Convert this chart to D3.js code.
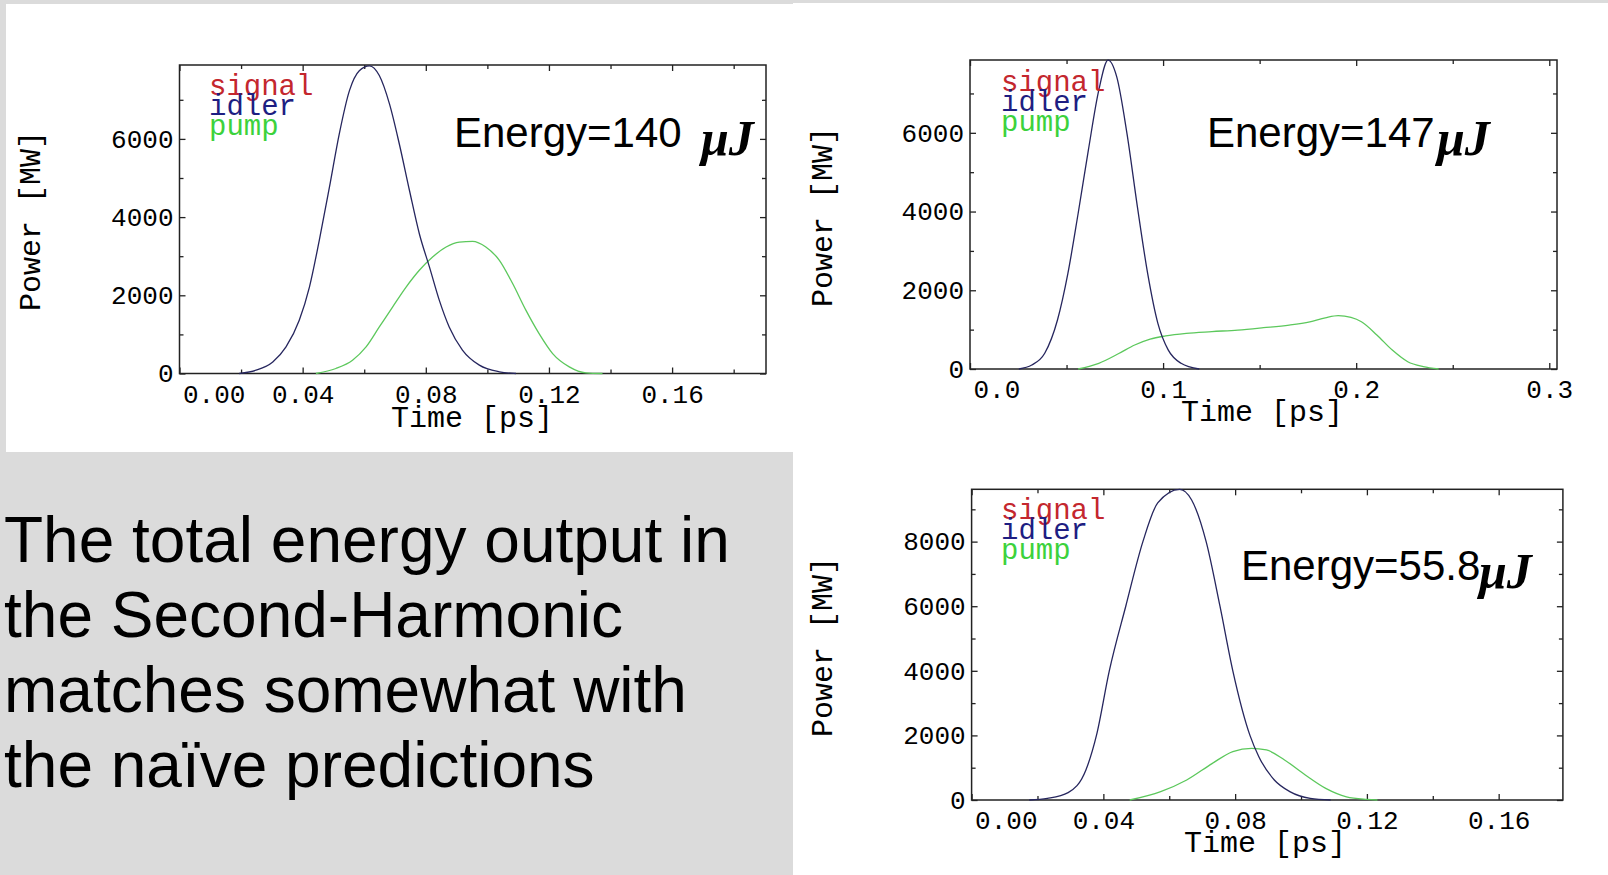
<!DOCTYPE html>
<html lang="en">
<head>
    <meta charset="UTF-8">
    <title>SHG pulse power</title>
    <script src="https://d3js.org/d3.v7.min.js"></script>
    <style>
        body { margin: 0; }
        .tick text, .axis-label, .legend text {
            font-family: "Liberation Mono", "DejaVu Sans Mono", monospace;
        }
        .energy { font-family: "Liberation Sans", Arial, sans-serif; }
        .unit { font-family: "Liberation Serif", "Times New Roman", serif; font-weight: bold; font-style: italic; }
        .note { font-family: "Liberation Sans", Arial, sans-serif; }
    </style>
</head>
<body>
    <svg id="slide" width="1608" height="875"></svg>

    <script>
        // series: [time ps, power MW]
        var p1Idler = [[0.0194, 0], [0.0249, 85], [0.0303, 296], [0.0346, 680], [0.0389, 1360], [0.0422, 2210],
            [0.0454, 3405], [0.0487, 4765], [0.0519, 6130], [0.0552, 7235], [0.0584, 7745], [0.0617, 7870],
            [0.0649, 7620], [0.0682, 6895], [0.0714, 5870], [0.0747, 4680], [0.0779, 3575], [0.0812, 2720],
            [0.0844, 1870], [0.0876, 1190], [0.0919, 600], [0.0974, 213], [0.1039, 43], [0.1093, 0]];
        var p1Pump = [[0.0443, 0], [0.0508, 128], [0.0562, 340], [0.0606, 680], [0.0649, 1190], [0.0692, 1700],
            [0.0736, 2210], [0.0779, 2640], [0.0822, 2980], [0.0866, 3235], [0.0909, 3360], [0.0952, 3380],
            [0.0995, 3235], [0.1039, 2895], [0.1082, 2300], [0.1125, 1620], [0.1168, 1020], [0.1212, 510],
            [0.1266, 170], [0.132, 17], [0.1374, 0]];

        var p2Idler = [[0.0253, 0], [0.032, 100], [0.0387, 400], [0.0453, 1245], [0.0507, 2430], [0.056, 3950],
            [0.0613, 5560], [0.0667, 7085], [0.0715, 7846], [0.076, 7420], [0.0813, 5980], [0.0867, 4120],
            [0.092, 2430], [0.0973, 1160], [0.1027, 480], [0.1093, 145], [0.1187, 0]];
        var p2Pump = [[0.056, 0], [0.0667, 145], [0.0773, 400], [0.0853, 610], [0.0933, 760], [0.1013, 840],
            [0.112, 905], [0.1253, 950], [0.1387, 990], [0.152, 1050], [0.1653, 1117], [0.176, 1200],
            [0.184, 1300], [0.1907, 1355], [0.1973, 1310], [0.2027, 1200], [0.2107, 865], [0.2187, 480],
            [0.2267, 185], [0.2347, 60], [0.2427, 0]];

        var p3Idler = [[0.0175, 0], [0.023, 50], [0.0293, 230], [0.0347, 930], [0.0379, 2000], [0.0418, 4000],
            [0.0468, 6000], [0.052, 8000], [0.0565, 9200], [0.0632, 9620], [0.0668, 9290], [0.0712, 8000],
            [0.0754, 6000], [0.0793, 4000], [0.0845, 2000], [0.0872, 1340], [0.0919, 620], [0.0966, 260],
            [0.1028, 50], [0.109, 0]];
        var p3Pump = [[0.048, 0], [0.0574, 260], [0.0653, 620], [0.0731, 1135], [0.0793, 1500], [0.085, 1600],
            [0.0895, 1550], [0.095, 1240], [0.1013, 775], [0.1075, 360], [0.1138, 100], [0.12, 20], [0.1232, 0]];

        var legendNames = ["signal", "idler", "pump"];
        var legendColors = ["#c4272e", "#1e1e82", "#3cd23c"];
        var energies = ["Energy=140 ", "Energy=147", "Energy=55.8"];
        var ticks1 = [0, 0.04, 0.08, 0.12, 0.16];
        var ticks2 = [0, 0.1, 0.2, 0.3];
        var yTicks1 = [0, 2000, 4000, 6000];
        var yTicks3 = [0, 2000, 4000, 6000, 8000];
        var noteLines = ["The total energy output in", "the Second-Harmonic",
            "matches somewhat with", "the na\u00efve predictions"];

        var svg = d3.select("#slide");

        // slide background
        svg.append("rect").attr("width", 1608).attr("height", 875).attr("fill", "#dbdbdb");
        svg.append("rect").attr("x", 6).attr("y", 4).attr("width", 787).attr("height", 448).attr("fill", "#fff");
        svg.append("rect").attr("x", 793).attr("y", 3).attr("width", 815).attr("height", 872).attr("fill", "#fff");

        function drawPanel(c) {
            var x = d3.scaleLinear().domain(c.xDomain).range([c.left, c.right]);
            var y = d3.scaleLinear().domain(c.yDomain).range([c.bottom, c.top]);
            var g = svg.append("g");

            function axis(gen, tr, size, fmt) {
                var a = g.append("g").attr("transform", tr)
                    .call(gen.tickSizeInner(size).tickSizeOuter(0).tickFormat(fmt));
                a.select(".domain").remove();
                a.selectAll("line").attr("stroke", "#222").attr("stroke-width", 1.3);
                return a;
            }
            var none = function () { return ""; };

            // major + minor ticks on all four sides, pointing inward
            var xb = axis(d3.axisBottom(x).tickValues(c.xTicks).tickPadding(11), "translate(0," + c.bottom + ")", -6, c.xFmt);
            axis(d3.axisBottom(x).tickValues(c.xMinor), "translate(0," + c.bottom + ")", -4, none);
            axis(d3.axisTop(x).tickValues(c.xTicks), "translate(0," + c.top + ")", -6, none);
            axis(d3.axisTop(x).tickValues(c.xMinor), "translate(0," + c.top + ")", -4, none);
            var yl = axis(d3.axisLeft(y).tickValues(c.yTicks).tickPadding(6), "translate(" + c.left + ",0)", -6, d3.format("d"));
            axis(d3.axisLeft(y).tickValues(c.yMinor), "translate(" + c.left + ",0)", -4, none);
            axis(d3.axisRight(y).tickValues(c.yTicks), "translate(" + c.right + ",0)", -6, none);
            axis(d3.axisRight(y).tickValues(c.yMinor), "translate(" + c.right + ",0)", -4, none);

            xb.selectAll("text").attr("font-size", 26).attr("fill", "#000");
            // first label sits to the right of the corner
            xb.select(".tick text").attr("text-anchor", "start").attr("x", 3);
            yl.selectAll("text").attr("font-size", 26).attr("fill", "#000");
            xb.attr("font-family", null); yl.attr("font-family", null);

            g.append("rect")
                .attr("x", c.left).attr("y", c.top)
                .attr("width", c.right - c.left).attr("height", c.bottom - c.top)
                .attr("fill", "none").attr("stroke", "#222").attr("stroke-width", 1.5);

            var line = d3.line()
                .x(function (d) { return x(d[0]); })
                .y(function (d) { return y(d[1]); })
                .curve(d3.curveMonotoneX);

            g.append("path").datum(c.pump).attr("d", line)
                .attr("fill", "none").attr("stroke", "#5cc85c").attr("stroke-width", 1.3);
            g.append("path").datum(c.idler).attr("d", line)
                .attr("fill", "none").attr("stroke", "#26265e").attr("stroke-width", 1.3);

            // legend
            var lg = g.append("g").attr("class", "legend");
            legendNames.forEach(function (n, i) {
                lg.append("text").attr("x", c.legendX).attr("y", c.legendY + i * 20)
                    .attr("font-size", 29).attr("fill", legendColors[i]).text(n);
            });

            g.append("text").attr("class", "energy")
                .attr("x", c.energyX).attr("y", c.energyY)
                .attr("font-size", 42).text(c.energy);
            g.append("text").attr("class", "unit")
                .attr("x", c.unitX).attr("y", c.energyY + 8)
                .attr("font-size", 50).text("\u03bcJ");

            g.append("text").attr("class", "axis-label")
                .attr("x", c.timeX).attr("y", c.timeY)
                .attr("text-anchor", "middle").attr("font-size", 30).text("Time [ps]");
            g.append("text").attr("class", "axis-label")
                .attr("transform", "translate(" + c.powerX + "," + c.powerY + ") rotate(-90)")
                .attr("text-anchor", "middle").attr("font-size", 30).text("Power [MW]");
        }

        var fmt2 = d3.format(".2f"), fmt1 = d3.format(".1f");

        drawPanel({
            left: 179.5, right: 766, top: 65, bottom: 373.5,
            xDomain: [0, 0.1905], yDomain: [0, 7890],
            xTicks: ticks1, xMinor: [0.02, 0.06, 0.1, 0.14, 0.18], xFmt: fmt2,
            yTicks: yTicks1, yMinor: [1000, 3000, 5000, 7000],
            idler: p1Idler, pump: p1Pump,
            legendX: 209, legendY: 95,
            energy: energies[0], energyX: 454, energyY: 147, unitX: 701,
            timeX: 472, timeY: 427, powerX: 40, powerY: 221
        });

        drawPanel({
            left: 970, right: 1557, top: 60, bottom: 369,
            xDomain: [0, 0.304], yDomain: [0, 7850],
            xTicks: ticks2, xMinor: [0.05, 0.15, 0.25], xFmt: fmt1,
            yTicks: yTicks1, yMinor: [1000, 3000, 5000, 7000],
            idler: p2Idler, pump: p2Pump,
            legendX: 1001, legendY: 91,
            energy: energies[1], energyX: 1207, energyY: 147, unitX: 1437,
            timeX: 1262, timeY: 421, powerX: 832, powerY: 217
        });

        drawPanel({
            left: 971.6, right: 1562.9, top: 489.3, bottom: 800,
            xDomain: [0, 0.1795], yDomain: [0, 9620],
            xTicks: ticks1, xMinor: [0.02, 0.06, 0.1, 0.14], xFmt: fmt2,
            yTicks: yTicks3, yMinor: [1000, 3000, 5000, 7000, 9000],
            idler: p3Idler, pump: p3Pump,
            legendX: 1001, legendY: 519,
            energy: energies[2], energyX: 1241, energyY: 580, unitX: 1479,
            timeX: 1265, timeY: 852, powerX: 832, powerY: 647
        });

        // slide text
        svg.append("g").selectAll("text")
            .data(noteLines)
            .enter().append("text")
            .attr("class", "note")
            .attr("x", 4)
            .attr("y", function (d, i) { return 562 + i * 75; })
            .attr("font-size", 64)
            .text(function (d) { return d; });
    </script>
</body>
</html>
